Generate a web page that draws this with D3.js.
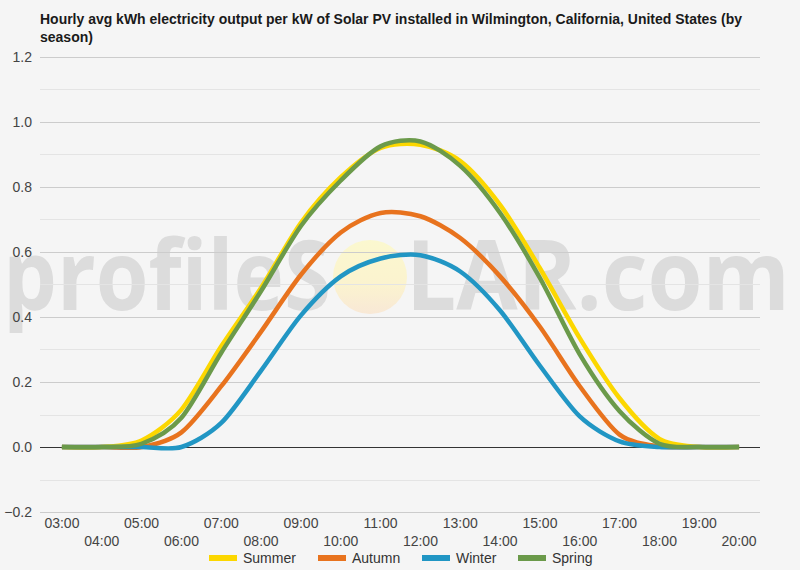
<!DOCTYPE html>
<html>
<head>
<meta charset="utf-8">
<script src="https://cdn.jsdelivr.net/npm/d3@7"></script>
<style>
  html, body { margin: 0; padding: 0; background: #f5f5f5; }
  svg { display: block; font-family: "Liberation Sans", Arial, sans-serif; }
</style>
</head>
<body>
<svg id="chart" width="800" height="570"></svg>
<script>
// hours and seasonal values
const hours = ['03:00', '04:00', '05:00', '06:00', '07:00', '08:00', '09:00', '10:00', '11:00',
  '12:00', '13:00', '14:00', '15:00', '16:00', '17:00', '18:00', '19:00', '20:00'];
const summer = [0, 0, 0.02, 0.115, 0.31, 0.49, 0.69, 0.83, 0.92, 0.93, 0.88, 0.745, 0.55, 0.335, 0.15, 0.025, 0, 0];
const autumn = [0, 0, 0, 0.045, 0.187, 0.355, 0.53, 0.66, 0.72, 0.71, 0.643, 0.525, 0.37, 0.187, 0.038, 0.002, 0, 0];
const winter = [0, 0, 0, 0, 0.074, 0.235, 0.405, 0.525, 0.58, 0.59, 0.54, 0.42, 0.25, 0.094, 0.017, 0, 0, 0];
const spring = [0, 0, 0.01, 0.09, 0.29, 0.48, 0.68, 0.82, 0.925, 0.94, 0.865, 0.72, 0.52, 0.285, 0.11, 0.01, 0, 0];
const seriesNames = ['Summer', 'Autumn', 'Winter', 'Spring'];
const seriesColors = ['#fcd700', '#e8731e', '#2196c4', '#6b9a4a'];
const yTicks = [-0.2, 0, 0.2, 0.4, 0.6, 0.8, 1.0, 1.2];

const series = [summer, autumn, winter, spring];

const svg = d3.select('#chart');
const plotLeft = 40, plotRight = 760, plotTop = 57, plotBottom = 512;

const x = d3.scaleBand().domain(hours).range([plotLeft + 2, plotRight - 1]);
const xc = d => x(d) + x.bandwidth() / 2;
const y = d3.scaleLinear().domain([-0.2, 1.2]).range([plotBottom, plotTop]);

// watermark (behind everything)
const wm = svg.append('g').attr('class', 'watermark');
const grad = svg.append('defs').append('linearGradient')
  .attr('id', 'sun').attr('x1', 0).attr('y1', 0).attr('x2', 0).attr('y2', 1);
grad.append('stop').attr('offset', '0%').style('stop-color', '#fbf8cf');
grad.append('stop').attr('offset', '60%').style('stop-color', '#fbf3cf');
grad.append('stop').attr('offset', '100%').style('stop-color', '#f8e8d6');
wm.append('circle').attr('cx', 370).attr('cy', 277).attr('r', 37).style('fill', 'url(#sun)');
wm.append('text').attr('x', 3).attr('y', 310).text('profileS')
  .style('font-family', '"Open Sans", Arial, sans-serif').style('font-weight', 'bold')
  .style('font-size', '96px').style('fill', '#dcdcdc')
  .attr('textLength', 328).attr('lengthAdjust', 'spacingAndGlyphs');
wm.append('text').attr('x', 406).attr('y', 310).text('LAR.com')
  .style('font-family', '"Open Sans", Arial, sans-serif').style('font-weight', 'bold')
  .style('font-size', '96px').style('fill', '#dcdcdc')
  .attr('textLength', 384).attr('lengthAdjust', 'spacingAndGlyphs');

// minor gridlines every 0.1
const minor = d3.range(-0.1, 1.2, 0.2);
svg.append('g').selectAll('line').data(minor).enter().append('line')
  .attr('x1', plotLeft).attr('x2', plotRight)
  .attr('y1', d => Math.round(y(d)) + 0.5).attr('y2', d => Math.round(y(d)) + 0.5)
  .style('stroke', '#e4e4e4').style('stroke-width', 1);

// major gridlines + labels
const yAxis = d3.axisLeft(y).tickValues(yTicks).tickFormat(d3.format('.1f')).tickSize(-(plotRight - plotLeft));
const gy = svg.append('g').attr('transform', `translate(${plotLeft},0)`).call(yAxis);
gy.select('.domain').remove();
gy.selectAll('.tick line')
  .style('stroke', d => d === 0 ? '#333' : '#cccccc');
gy.selectAll('.tick text')
  .attr('x', -8).attr('dy', '0.35em')
  .style('font-size', '14px').style('fill', '#444')
  .style('font-family', '"Liberation Sans", Arial, sans-serif');

// x axis labels on two alternating rows
const xAxis = d3.axisBottom(x).tickSize(0);
const gx = svg.append('g').attr('transform', `translate(0,${plotBottom})`).call(xAxis);
gx.select('.domain').remove();
gx.selectAll('.tick text')
  .attr('y', (d, i) => i % 2 === 0 ? 11 : 29)
  .attr('dy', '0.35em')
  .style('font-size', '14px').style('fill', '#444')
  .style('font-family', '"Liberation Sans", Arial, sans-serif');

// lines
const line = d3.line()
  .x((d, i) => xc(hours[i]))
  .y(d => y(d))
  .curve(d3.curveCardinal.tension(0.15));

svg.append('g').selectAll('path').data(series).enter().append('path')
  .attr('d', d => line(d))
  .style('fill', 'none')
  .style('stroke', (d, i) => seriesColors[i])
  .style('stroke-width', 4.5)
  .style('stroke-linejoin', 'round');

// title
const title = svg.append('text').attr('y', 24)
  .style('font-size', '14px').style('font-weight', 'bold').style('fill', '#1a1a1a');
title.append('tspan').attr('x', 40)
  .attr('textLength', 702).attr('lengthAdjust', 'spacingAndGlyphs')
  .text('Hourly avg kWh electricity output per kW of Solar PV installed in Wilmington, California, United States (by');
title.append('tspan').attr('x', 40).attr('dy', 18).text('season)');

// legend
const legendX = [209, 318, 422, 518];
const lg = svg.append('g').selectAll('g').data(seriesNames).enter().append('g')
  .attr('transform', (d, i) => `translate(${legendX[i]},558)`);
lg.append('rect').attr('x', 0).attr('y', -3).attr('width', 28).attr('height', 6)
  .style('fill', (d, i) => seriesColors[i]);
lg.append('text').attr('x', 34).attr('dy', '0.35em').text(d => d)
  .style('font-size', '14px').style('fill', '#333');
</script>
</body>
</html>
